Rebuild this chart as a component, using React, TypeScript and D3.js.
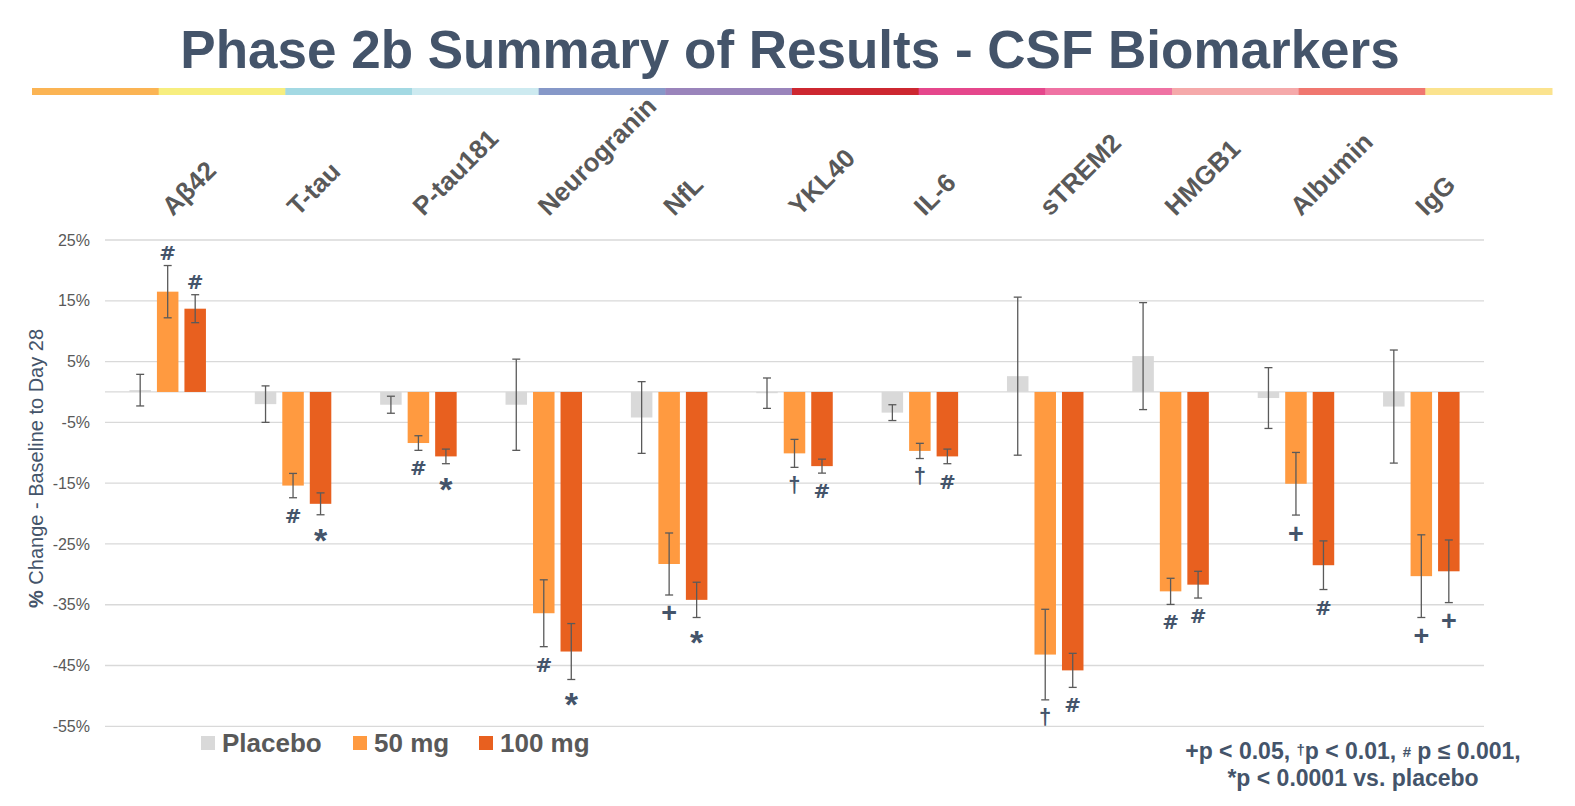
import React from "react";
import * as d3 from "d3";

const categories = ["Aβ42", "T-tau", "P-tau181", "Neurogranin", "NfL", "YKL40", "IL-6", "sTREM2", "HMGB1", "Albumin", "IgG"];
const seriesNames = ["Placebo", "50 mg", "100 mg"];
const placebo = [0.3, -2.0, -2.1, -2.1, -4.2, -0.2, -3.4, 2.6, 5.9, -1.0, -2.4];
const placeboErr = [2.6, 3.0, 1.4, 7.5, 5.9, 2.5, 1.3, 13.0, 8.8, 5.0, 9.3];
const mg50 = [16.5, -15.4, -8.4, -36.4, -28.3, -10.1, -9.7, -43.2, -32.8, -15.1, -30.3];
const mg50Err = [4.3, 2.0, 1.2, 5.5, 5.1, 2.3, 1.25, 7.45, 2.15, 5.15, 6.8];
const mg100 = [13.7, -18.4, -10.6, -42.7, -34.2, -12.2, -10.6, -45.8, -31.7, -28.5, -29.5];
const mg100Err = [2.3, 1.8, 1.2, 4.6, 2.9, 1.15, 1.2, 2.8, 2.2, 4.0, 5.15];
const placeboSig = ["", "", "", "", "", "", "", "", "", "", ""];
const mg50Sig = ["#", "#", "#", "#", "+", "†", "†", "†", "#", "+", "+"];
const mg100Sig = ["#", "*", "*", "*", "*", "#", "#", "#", "#", "#", "+"];
const yTicks = [25, 15, 5, -5, -15, -25, -35, -45, -55];
const stripeColors = ["#FBB454", "#F7EE7F", "#A3D9E3", "#CDEAF0", "#8698C8", "#9A84BB", "#CD2730", "#E5478C", "#EF72A3", "#F5A9AA", "#F07770", "#FBE38E"];
const seriesColors = ["#D9D9D9", "#FF9A40", "#E8601F"];

const values = [placebo, mg50, mg100];
const errors = [placeboErr, mg50Err, mg100Err];
const sigs = [placeboSig, mg50Sig, mg100Sig];

const W = 1575;
const H = 806;
const plotLeft = 105;
const plotRight = 1484;
const TEXT_DARK = "#44546A";
const GRAY = "#595959";

const symStyle: Record<string, { size: number; shift: number; family?: string }> = {
  "#": { size: 20, shift: 7, family: "'DejaVu Sans', sans-serif" },
  "*": { size: 34, shift: 19 },
  "+": { size: 27, shift: 9.5 },
  "†": { size: 22, shift: 6.5 },
};

export default function App() {
  const x0 = d3.scaleBand<string>().domain(categories).range([plotLeft, plotRight]).padding(0);
  const bw = x0.bandwidth();
  const x1 = d3
    .scaleBand<string>()
    .domain(seriesNames)
    .range([bw / 2 - 44.25, bw / 2 + 44.25])
    .padding(0.218);
  const y = d3.scaleLinear().domain([-55, 25]).range([726.3, 240]);

  const stripeX = d3.scaleLinear().domain([0, stripeColors.length]).range([32, 1552]);

  const legendX = [201, 353, 479];

  return (
    <svg
      width={W}
      height={H}
      style={{ position: "absolute", left: 0, top: 0, background: "#fff" }}
      fontFamily="'Liberation Sans', Arial, Helvetica, sans-serif"
    >
      <rect x={0} y={0} width={W} height={H} fill="#fff" />
      {/* Title */}
      <text x={790} y={68} textAnchor="middle" fontSize={53} fontWeight="bold" fill={TEXT_DARK}>
        Phase 2b Summary of Results - CSF Biomarkers
      </text>
      {/* Colour stripe */}
      {stripeColors.map((c, i) => (
        <rect key={i} x={stripeX(i)} y={88} width={stripeX(i + 1) - stripeX(i) + 0.5} height={7} fill={c} />
      ))}

      {/* Gridlines */}
      {yTicks.map((t) => (
        <line key={t} x1={plotLeft} x2={plotRight} y1={y(t)} y2={y(t)} stroke="#D9D9D9" strokeWidth={1.3} />
      ))}
      <line x1={plotLeft} x2={plotRight} y1={y(0)} y2={y(0)} stroke="#D9D9D9" strokeWidth={1.3} />

      {/* Y tick labels */}
      {yTicks.map((t) => (
        <text key={t} x={90} y={y(t)} dy="0.35em" textAnchor="end" fontSize={16} fill={GRAY}>
          {t + "%"}
        </text>
      ))}

      {/* Y axis title */}
      <text transform={`translate(42.5, 468.5) rotate(-90)`} textAnchor="middle" fontSize={20} fill={TEXT_DARK}>
        <tspan fontWeight="bold">%</tspan> Change - Baseline to Day 28
      </text>

      {/* Category labels */}
      {categories.map((c) => (
        <text
          key={c}
          transform={`translate(${(x0(c) as number) + bw / 2 + 5}, 217) rotate(-45)`}
          fontSize={26}
          fontWeight="bold"
          fill={GRAY}
        >
          {c}
        </text>
      ))}

      {/* Bars */}
      {categories.map((c, ci) => (
        <g key={c} transform={`translate(${x0(c)},0)`}>
          {seriesNames.map((s, si) => {
            const v = values[si][ci];
            const bx = x1(s) as number;
            const top = Math.min(y(v), y(0));
            const h = Math.abs(y(v) - y(0));
            return (
              <rect key={s} x={bx} y={top} width={x1.bandwidth()} height={Math.max(h, 1)} fill={seriesColors[si]} />
            );
          })}
        </g>
      ))}

      {/* Error bars */}
      {categories.map((c, ci) => (
        <g key={c} transform={`translate(${x0(c)},0)`}>
          {seriesNames.map((s, si) => {
            const v = values[si][ci];
            const e = errors[si][ci];
            const cx = (x1(s) as number) + x1.bandwidth() / 2;
            const y1v = y(v + e);
            const y2v = y(v - e);
            return (
              <g key={s} stroke="#5A5A5A" strokeWidth={1.3}>
                <line x1={cx} x2={cx} y1={y1v} y2={y2v} />
                <line x1={cx - 4} x2={cx + 4} y1={y1v} y2={y1v} />
                <line x1={cx - 4} x2={cx + 4} y1={y2v} y2={y2v} />
              </g>
            );
          })}
        </g>
      ))}

      {/* Significance markers */}
      {categories.map((c, ci) => (
        <g key={c} transform={`translate(${x0(c)},0)`}>
          {seriesNames.map((s, si) => {
            const sym = sigs[si][ci];
            if (!sym) return null;
            const v = values[si][ci];
            const e = errors[si][ci];
            const cx = (x1(s) as number) + x1.bandwidth() / 2;
            const centerY = v >= 0 ? y(v + e) - 13 : y(v - e) + 18;
            const st = symStyle[sym];
            return (
              <text
                key={s}
                x={cx}
                y={centerY + st.shift}
                textAnchor="middle"
                fontSize={st.size}
                fontWeight="bold"
                fontFamily={st.family}
                fill={TEXT_DARK}
              >
                {sym}
              </text>
            );
          })}
        </g>
      ))}

      {/* Legend */}
      {seriesNames.map((s, i) => (
        <g key={s}>
          <rect x={legendX[i]} y={736} width={14} height={14} fill={seriesColors[i]} />
          <text x={legendX[i] + 21} y={751.5} fontSize={26} fontWeight="bold" fill={GRAY}>
            {s}
          </text>
        </g>
      ))}

      {/* Footnote */}
      <text x={1353} y={759} textAnchor="middle" fontSize={23} fontWeight="bold" fill={TEXT_DARK}>
        +p &lt; 0.05, <tspan fontSize={15} dy={-4}>†</tspan>
        <tspan dy={4}>p &lt; 0.01, </tspan>
        <tspan fontSize={15} dy={-2}>#</tspan>
        <tspan dy={2}> p ≤ 0.001,</tspan>
      </text>
      <text x={1353} y={786} textAnchor="middle" fontSize={23} fontWeight="bold" fill={TEXT_DARK}>
        *p &lt; 0.0001 vs. placebo
      </text>
    </svg>
  );
}
